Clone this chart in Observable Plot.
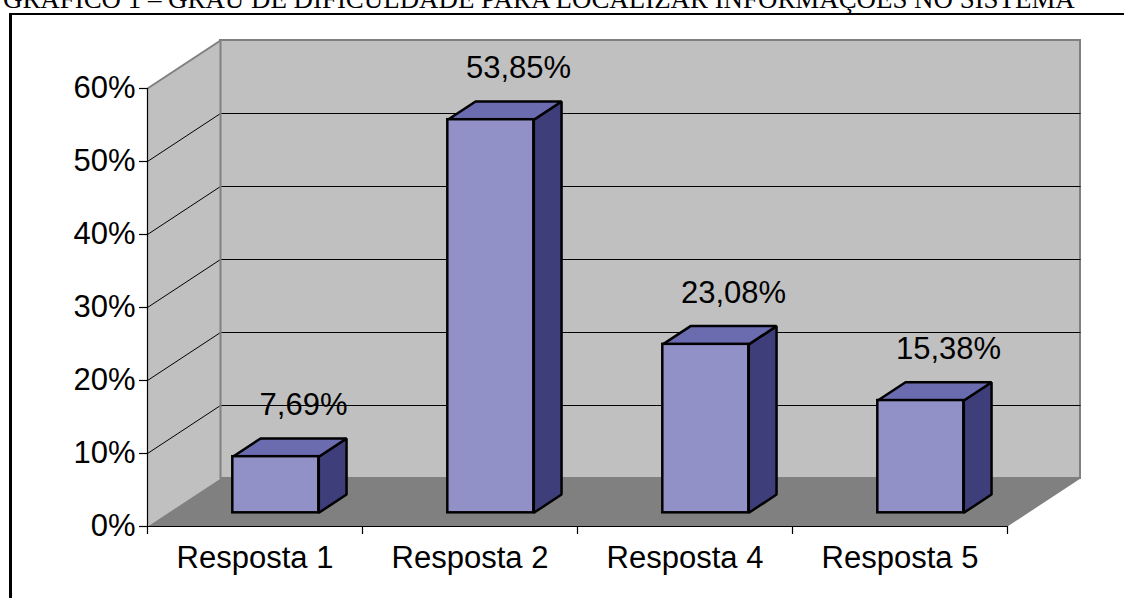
<!DOCTYPE html>
<html><head><meta charset="utf-8">
<script src="https://cdn.jsdelivr.net/npm/d3@7"></script>
<script src="https://cdn.jsdelivr.net/npm/@observablehq/plot@0.6"></script>
<style>
html,body{margin:0;padding:0;background:#fff;overflow:hidden}
#wrap{position:relative;width:1124px;height:598px;overflow:hidden}
#frame{position:absolute;left:9px;top:13px;width:1200px;height:700px;border-left:3px solid #000;border-top:2px solid #000}
#chart{position:absolute;left:0;top:0}
#title{position:absolute;left:0;top:0}
</style></head><body>
<div id="wrap">
  <div id="frame"></div>
  <div id="chart"></div>
  <svg id="title" width="1124" height="20"><text id="tt" x="3" y="8" font-family="'Liberation Serif','Times New Roman',serif" font-size="22" fill="#000"></text></svg>
</div>
<script>
// ---- data ----
const titleText = "GRÁFICO 1 – GRAU DE DIFICULDADE PARA LOCALIZAR INFORMAÇÕES NO SISTEMA";
const categories = ["Resposta 1", "Resposta 2", "Resposta 4", "Resposta 5"];
const values = [7.69, 53.85, 23.08, 15.38];
const valueLabels = ["7,69%", "53,85%", "23,08%", "15,38%"];
const yTicks = [0, 10, 20, 30, 40, 50, 60];
const yTickLabels = ["0%", "10%", "20%", "30%", "40%", "50%", "60%"];
const gridValues = [10, 20, 30, 40, 50];

// ---- 3D oblique projection in data units ----
const n = categories.length;
const yMax = 60;
const DX = 73 / 215;      // depth shift in category units
const DV = 48 / 7.3;      // depth shift in percent units
const P = (c, v, d) => ({x: c + d * DX, y: v + d * DV});
const dF = 0.285, dB = 0.665, HALF = 0.2;

const leftWall = [P(0, 0, 0), P(0, yMax, 0), P(0, yMax, 1), P(0, 0, 1)];
const floor = [P(0, 0, 0), P(n, 0, 0), P(n, 0, 1), P(0, 0, 1)];
const backWall = [{x1: P(0,0,1).x, x2: P(n,0,1).x, y1: P(0,0,1).y, y2: P(0,yMax,1).y}];

const sides = [], tops = [], fronts = [];
values.forEach((v, i) => {
  const c0 = i + 0.5 - HALF, c1 = i + 0.5 + HALF;
  [P(c1, 0, dF), P(c1, v, dF), P(c1, v, dB), P(c1, 0, dB)].forEach(p => sides.push({...p, id: i}));
  [P(c0, v, dF), P(c1, v, dF), P(c1, v, dB), P(c0, v, dB)].forEach(p => tops.push({...p, id: i}));
  const a = P(c0, 0, dF), b = P(c1, v, dF);
  fronts.push({x1: a.x, x2: b.x, y1: a.y, y2: b.y});
});

const idx = d3.range(n);
const tickLenX = 8 / 7.3; // length of category ticks below axis, in % units

const chart = Plot.plot({
  width: 1124, height: 598,
  marginLeft: 147, marginRight: 117, marginTop: 88, marginBottom: 72,
  x: {domain: [0, n], axis: null},
  y: {domain: [0, yMax], axis: null},
  style: {background: "none", fontFamily: "'Liberation Sans', Arial, sans-serif", color: "#000", overflow: "visible"},
  marks: [
    Plot.rect(backWall, {x1: "x1", x2: "x2", y1: "y1", y2: "y2", fill: "#c0c0c0", stroke: "#808080", strokeWidth: 2}),
    Plot.line(leftWall, {x: "x", y: "y", fill: "#c0c0c0", stroke: "none", curve: "linear-closed"}),
    Plot.line(floor, {x: "x", y: "y", fill: "#808080", stroke: "none", curve: "linear-closed"}),
    Plot.link(gridValues, {x1: () => P(0,0,1).x, x2: () => P(n,0,1).x, y1: d => P(0,d,1).y, y2: d => P(0,d,1).y, stroke: "#000", strokeWidth: 1}),
    Plot.link(gridValues, {x1: () => 0, x2: () => P(0,0,1).x, y1: d => d, y2: d => P(0,d,1).y, stroke: "#000", strokeWidth: 1}),
    Plot.link([yMax], {x1: () => 0, x2: () => P(0,0,1).x, y1: d => d, y2: d => P(0,d,1).y, stroke: "#808080", strokeWidth: 2}),
    Plot.link([yMax], {x1: () => P(0,0,1).x, x2: () => P(0,0,1).x, y1: () => P(0,0,1).y, y2: d => P(0,d,1).y, stroke: "#808080", strokeWidth: 2}),
    // axes lines
    Plot.ruleX([0], {y1: () => 0, y2: () => yMax, stroke: "#000", strokeWidth: 1.2}),
    Plot.ruleY([0], {x1: () => 0, x2: () => n, stroke: "#000", strokeWidth: 1.2}),
    Plot.ruleY(yTicks, {y: d => d, x1: () => 0, x2: () => -8 / 215, stroke: "#000", strokeWidth: 1.2}),
    Plot.ruleX(d3.range(n + 1), {x: d => d, y1: () => 0, y2: () => -tickLenX, stroke: "#000", strokeWidth: 1.2}),
    // bars
    Plot.line(sides, {x: "x", y: "y", z: "id", fill: "#3e3e7a", stroke: "#000", strokeWidth: 2.5, strokeLinejoin: "miter", curve: "linear-closed"}),
    Plot.line(tops, {x: "x", y: "y", z: "id", fill: "#6b6bb0", stroke: "#000", strokeWidth: 2.5, strokeLinejoin: "miter", curve: "linear-closed"}),
    Plot.rect(fronts, {x1: "x1", x2: "x2", y1: "y1", y2: "y2", fill: "#9191c7", stroke: "#000", strokeWidth: 2.5}),
    // labels
    Plot.text(idx, {x: i => i + 0.5 + dB * DX, y: i => values[i] + dB * DV, text: i => valueLabels[i], dy: -33, fontSize: 31, fill: "#000"}),
    Plot.text(yTicks, {x: () => 0, y: d => d, text: (d, i) => yTickLabels[i], textAnchor: "end", dx: -12, fontSize: 31, fill: "#000"}),
    Plot.text(idx, {x: i => i + 0.5, y: () => 0, text: i => categories[i], dy: 32, fontSize: 31, fill: "#000"})
  ]
});
document.getElementById("chart").appendChild(chart);

const tt = document.getElementById("tt");
tt.textContent = titleText;
const w = tt.getComputedTextLength();
if (w > 0) tt.setAttribute("font-size", (22 * 1072 / w).toFixed(2));
</script>
</body></html>
